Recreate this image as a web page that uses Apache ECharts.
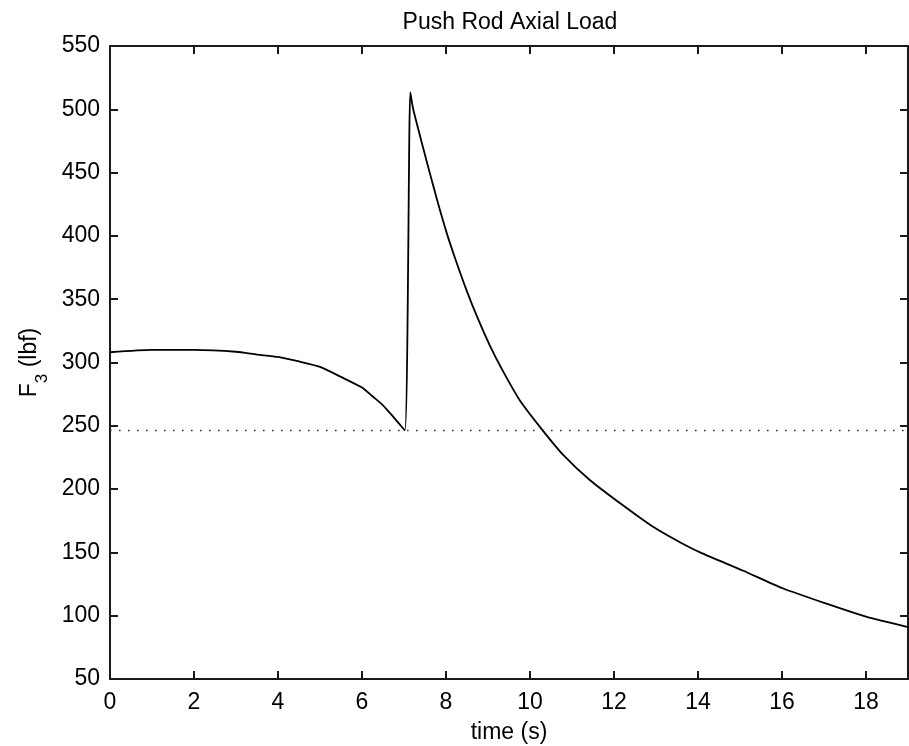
<!DOCTYPE html>
<html>
<head>
<meta charset="utf-8">
<title>Push Rod Axial Load</title>
<script src="https://cdn.jsdelivr.net/npm/echarts@6/dist/echarts.min.js"></script>
<style>
  html, body { margin: 0; padding: 0; background: #fff; }
  #chart { width: 909px; height: 746px; }
</style>
</head>
<body>
<div id="chart"></div>
<script>
// Time samples (s) and push-rod axial load F3 (lbf)
const timeS = [0, 1, 2, 3, 3.5, 4, 4.5, 5, 5.5, 6, 6.25, 6.5, 6.75, 7.02, 7.15, 7.22, 7.46, 7.62, 7.8, 8.02, 8.21, 8.49, 8.73, 9.05, 9.36, 9.76, 10.24, 10.79, 11.43, 12.22, 12.94, 13.57, 14.05, 15.08, 16.03, 17.06, 18.02, 19.0];
const loadLbf = [308.1, 309.9, 309.9, 308.5, 306.3, 304.4, 300.8, 296.5, 288.6, 280.2, 273.3, 266.2, 256.9, 246.4, 513.4, 500, 469, 449, 427, 402, 383, 357, 337, 313, 293, 270, 249, 227, 207, 187, 170, 158, 150, 135.5, 121.5, 109.5, 99, 91];

// Reference load level drawn as a dotted horizontal line
const thresholdTime = [0, 19];
const thresholdLoad = [246.3, 246.3];

// Axis ranges and ticks
const xRange = [0, 19];
const xStep = 2;
const yRange = [50, 550];
const yStep = 50;

const FONT = "'Liberation Sans', Arial, Helvetica, sans-serif";
const INK = '#000';

const curve = timeS.map((t, i) => [t, loadLbf[i]]);
const threshold = thresholdTime.map((t, i) => [t, thresholdLoad[i]]);

const axisLine = { show: true, onZero: false, lineStyle: { color: '#1a1a1a', width: 2 } };
const axisTick = { show: true, inside: true, length: 8, lineStyle: { color: '#1a1a1a', width: 2 } };

const chart = echarts.init(document.getElementById('chart'), null, { renderer: 'canvas' });
chart.setOption({
  backgroundColor: '#fff',
  animation: false,
  textStyle: { fontFamily: FONT },
  title: {
    text: 'Push Rod Axial Load',
    left: 510,
    textAlign: 'center',
    top: 11,
    padding: 0,
    textStyle: { fontFamily: FONT, fontSize: 23, fontWeight: 'normal', color: INK }
  },
  grid: { left: 110, right: 1, top: 46, bottom: 67, containLabel: false, outerBoundsMode: 'none' },
  xAxis: [
    {
      type: 'value', position: 'bottom',
      min: xRange[0], max: xRange[1], interval: xStep,
      axisLine, axisTick,
      splitLine: { show: false },
      axisLabel: { fontFamily: FONT, fontSize: 23, color: INK, margin: 12, showMaxLabel: false },
      name: 'time (s)', nameLocation: 'middle', nameGap: 42,
      nameTextStyle: { fontFamily: FONT, fontSize: 23, color: INK }
    },
    {
      type: 'value', position: 'top',
      min: xRange[0], max: xRange[1], interval: xStep,
      axisLine, axisTick,
      splitLine: { show: false }, axisLabel: { show: false }
    }
  ],
  yAxis: [
    {
      type: 'value', position: 'left',
      min: yRange[0], max: yRange[1], interval: yStep,
      axisLine, axisTick,
      splitLine: { show: false },
      axisLabel: { fontFamily: FONT, fontSize: 23, color: INK, margin: 10 },
      name: '{f|F}{s|3}{f| (lbf)}', nameLocation: 'middle', nameGap: 66, nameRotate: 90,
      nameTextStyle: {
        fontFamily: FONT, color: INK,
        rich: {
          f: { fontFamily: FONT, fontSize: 23, color: INK, lineHeight: 26, verticalAlign: 'top' },
          s: { fontFamily: FONT, fontSize: 17, color: INK, lineHeight: 17, verticalAlign: 'top', padding: [16, 0, 0, 0] }
        }
      }
    },
    {
      type: 'value', position: 'right',
      min: yRange[0], max: yRange[1], interval: yStep,
      axisLine, axisTick,
      splitLine: { show: false }, axisLabel: { show: false }
    }
  ],
  series: [
    {
      name: 'F3',
      type: 'line',
      data: curve,
      showSymbol: false,
      symbol: 'none',
      smooth: 0.2,
      lineStyle: { color: INK, width: 1.8 },
      z: 3
    },
    {
      name: 'threshold',
      type: 'line',
      data: threshold,
      showSymbol: false,
      symbol: 'none',
      lineStyle: { color: '#333', width: 1.6, type: [1.6, 7.4] },
      z: 2
    }
  ]
});
</script>
</body>
</html>
